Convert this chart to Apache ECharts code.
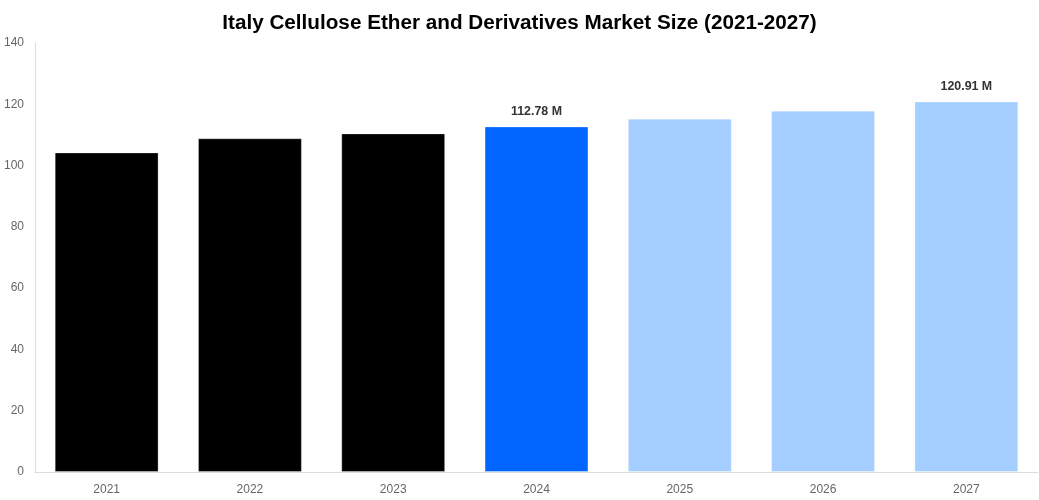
<!DOCTYPE html>
<html>
<head>
<meta charset="utf-8">
<script src="https://cdn.jsdelivr.net/npm/echarts@6/dist/echarts.min.js"></script>
<style>html,body{margin:0;padding:0;background:#fff;}#main{width:1039px;height:500px;}</style>
</head>
<body>
<div id="main"></div>
<script>
const categories = ['2021','2022','2023','2024','2025','2026','2027'];
const values = [104.3, 108.9, 110.5, 112.78, 115.3, 117.9, 120.91];
const barColors = ['#000000','#000000','#000000','#0066FF','#A3CEFF','#A3CEFF','#A3CEFF'];
const labeledIndices = [3, 6];
const yTicks = [0, 20, 40, 60, 80, 100, 120, 140];

const chart = echarts.init(document.getElementById('main'));
chart.setOption({
  backgroundColor: '#fff',
  animation: false,
  title: {
    text: 'Italy Cellulose Ether and Derivatives Market Size (2021-2027)',
    left: 'center', top: 8,
    textStyle: { fontFamily: 'Liberation Sans, Arial, sans-serif', fontSize: 20.7, fontWeight: 'bold', color: '#000' }
  },
  grid: { left: 35, right: 1, top: 43, bottom: 28, containLabel: false },
  xAxis: {
    type: 'category', data: categories,
    axisLine: { show: true, lineStyle: { color: '#ddd' } },
    axisTick: { show: false },
    axisLabel: { color: '#666', fontSize: 12, margin: 12, fontFamily: 'Liberation Sans, Arial, sans-serif' }
  },
  yAxis: {
    type: 'value', min: yTicks[0], max: yTicks[yTicks.length-1], interval: 20,
    axisLine: { show: true, lineStyle: { color: '#ddd' } },
    axisTick: { show: false },
    splitLine: { show: false },
    axisLabel: { color: '#666', fontSize: 12, margin: 11, fontFamily: 'Liberation Sans, Arial, sans-serif' }
  },
  series: [{
    type: 'bar',
    barWidth: '72.5%',
    data: values.map((v, i) => ({
      value: v,
      itemStyle: { color: barColors[i], borderColor: 'rgba(255,255,255,0.3)', borderWidth: 1 },
      label: {
        show: labeledIndices.includes(i), position: 'top', distance: 9,
        formatter: p => p.value.toFixed(2) + ' M',
        fontWeight: 'bold', fontSize: 12.4, color: '#333',
        fontFamily: 'Liberation Sans, Arial, sans-serif'
      }
    }))
  }]
});
</script>
</body>
</html>
